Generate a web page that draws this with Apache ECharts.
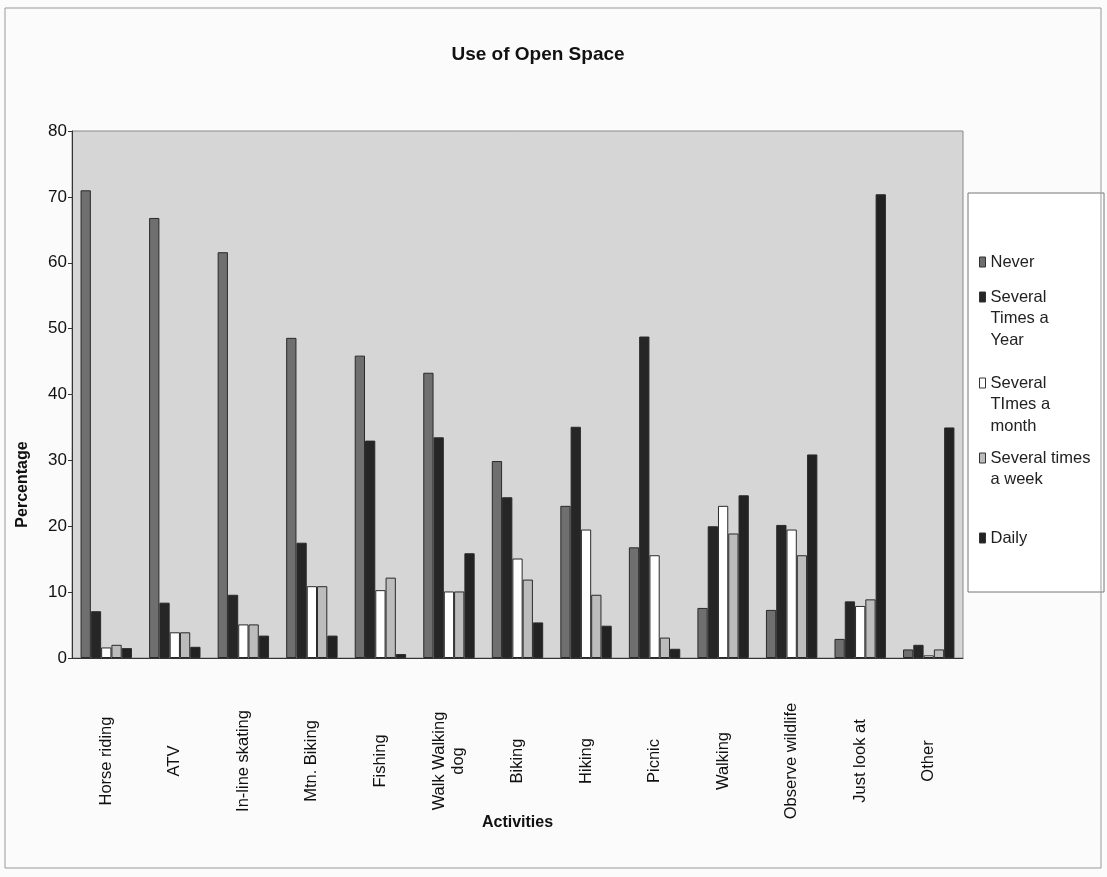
<!DOCTYPE html>
<html>
<head>
<meta charset="utf-8">
<script src="https://cdn.jsdelivr.net/npm/echarts@6/dist/echarts.min.js"></script>
<style>
  html, body { margin: 0; padding: 0; background: #fbfbfb; }
  #chart { width: 1107px; height: 877px; }
</style>
</head>
<body>
<div id="chart"></div>
<script>
var activities = ['Horse riding', 'ATV', 'In-line skating', 'Mtn. Biking', 'Fishing', 'Walk Walking\ndog',
  'Biking', 'Hiking', 'Picnic', 'Walking', 'Observe wildlife', 'Just look at', 'Other'];
var seriesNames = ['Never', 'Several Times a Year', 'Several TImes a month', 'Several times a week', 'Daily'];
var never   = [71.0, 66.8, 61.6, 48.6, 45.9, 43.3, 29.9, 23.1, 16.8, 7.6, 7.3, 2.9, 1.3];
var yearly  = [7.1, 8.4, 9.6, 17.5, 33.0, 33.5, 24.4, 35.1, 48.8, 20.0, 20.2, 8.6, 2.0];
var monthly = [1.6, 3.9, 5.1, 10.9, 10.3, 10.1, 15.1, 19.5, 15.6, 23.1, 19.5, 7.9, 0.4];
var weekly  = [2.0, 3.9, 5.1, 10.9, 12.2, 10.1, 11.9, 9.6, 3.1, 18.9, 15.6, 8.9, 1.3];
var daily   = [1.5, 1.7, 3.4, 3.4, 0.6, 15.9, 5.4, 4.9, 1.4, 24.7, 30.9, 70.4, 35.0];
var yTicks  = [0, 10, 20, 30, 40, 50, 60, 70, 80];

var fill = ['#6f6f6f', '#262626', '#ffffff', '#bcbcbc', '#222222'];
var legendText = ['Never', 'Several\nTimes a\nYear', 'Several\nTImes a\nmonth', 'Several times\na week', 'Daily'];
var legendCenter = [262, 297, 383, 458, 538];
var font = '"Liberation Sans", Arial, sans-serif';
var lh = 21.5;

var chart = echarts.init(document.getElementById('chart'));

var allData = [never, yearly, monthly, weekly, daily];
var series = seriesNames.map(function (name, i) {
  return {
    name: name,
    type: 'bar',
    barGap: '0%',
    barCategoryGap: '25%',
    itemStyle: { color: fill[i], borderColor: '#2a2a2a', borderWidth: 1 },
    data: allData[i]
  };
});

// one legend per entry so the icon sits on the first text line, like the original
var legends = seriesNames.map(function (name, i) {
  var lines = legendText[i].split('\n').length;
  var pad = new Array(lines).join('\n');
  return {
    orient: 'vertical',
    left: 979,
    top: legendCenter[i] - (2 * lines - 1) * lh / 2,
    padding: 0,
    itemWidth: 6,
    itemHeight: 10,
    itemGap: 0,
    selectedMode: false,
    icon: 'rect',
    formatter: function () { return pad + legendText[i]; },
    textStyle: { fontFamily: font, fontSize: 16.5, color: '#222', lineHeight: lh },
    data: [{ name: name, itemStyle: { borderColor: '#333', borderWidth: 1 } }]
  };
});

chart.setOption({
  backgroundColor: '#fbfbfb',
  animation: false,
  title: {
    text: 'Use of Open Space',
    left: 533,
    textAlign: 'center',
    top: 40,
    textStyle: { fontFamily: font, fontSize: 19, fontWeight: 'bold', color: '#111' }
  },
  graphic: [
    { type: 'rect', shape: { x: 5, y: 8, width: 1096, height: 860 },
      style: { fill: 'none', stroke: '#999', lineWidth: 1 }, silent: true },
    { type: 'rect', shape: { x: 968, y: 193, width: 136, height: 399 },
      style: { fill: '#fff', stroke: '#777', lineWidth: 1 }, silent: true, z: -1 }
  ],
  legend: legends,
  grid: {
    left: 72, right: 144, top: 131, bottom: 219,
    show: true, backgroundColor: '#d6d6d6', borderColor: '#8a8a8a', borderWidth: 1
  },
  xAxis: {
    type: 'category',
    data: activities,
    name: 'Activities',
    nameLocation: 'middle',
    nameGap: 157,
    nameMoveOverlap: false,
    nameTextStyle: { fontFamily: font, fontSize: 16, fontWeight: 'bold', color: '#111' },
    axisLine: { lineStyle: { color: '#333' } },
    axisTick: { length: 4, lineStyle: { color: '#333' } },
    axisLabel: {
      rotate: 90, align: 'center', margin: 103, interval: 0,
      fontFamily: font, fontSize: 16.5, color: '#111', lineHeight: 19
    }
  },
  yAxis: {
    type: 'value',
    min: yTicks[0],
    max: yTicks[yTicks.length - 1],
    interval: 10,
    name: 'Percentage',
    nameLocation: 'middle',
    nameGap: 41,
    nameTextStyle: { fontFamily: font, fontSize: 16, fontWeight: 'bold', color: '#111', padding: [0, 180, 0, 0] },
    axisLine: { show: true, lineStyle: { color: '#333' } },
    axisTick: { show: true, length: 4, lineStyle: { color: '#333' } },
    splitLine: { show: false },
    axisLabel: { fontFamily: font, fontSize: 17, color: '#111', margin: 5 }
  },
  series: series
});
</script>
</body>
</html>
